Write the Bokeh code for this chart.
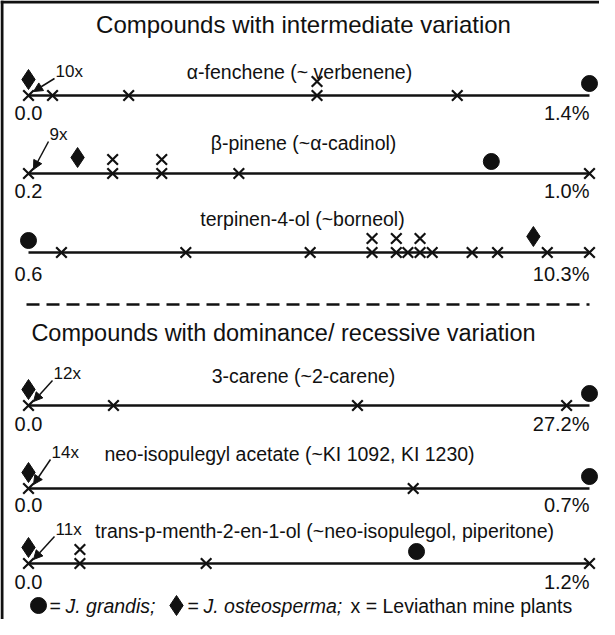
from bokeh.plotting import figure
from bokeh.models import Range1d, Arrow, NormalHead
from bokeh.embed import file_html
from bokeh.resources import INLINE
from bokeh.core.properties import value

# ---------------- data ----------------
section_titles = ["Compounds with intermediate variation",
                  "Compounds with dominance/ recessive variation"]
compounds = ["α-fenchene (~ verbenene)",
             "β-pinene (~α-cadinol)",
             "terpinen-4-ol (~borneol)",
             "3-carene (~2-carene)",
             "neo-isopulegyl acetate (~KI 1092, KI 1230)",
             "trans-p-menth-2-en-1-ol (~neo-isopulegol, piperitone)"]
range_min = [0.0, 0.2, 0.6, 0.0, 0.0, 0.0]
range_max = [1.4, 1.0, 10.3, 27.2, 0.7, 1.2]
min_labels = ["0.0", "0.2", "0.6", "0.0", "0.0", "0.0"]
max_labels = ["1.4%", "1.0%", "10.3%", "27.2%", "0.7%", "1.2%"]
grandis = [1.4, 0.86, 0.6, 27.2, 0.7, 0.83]
osteosperma = [0.0, 0.27, 9.33, 0.0, 0.0, 0.0]
leviathan_values = [
    [0.0, 0.06, 0.25, 0.72, 1.07],
    [0.2, 0.32, 0.39, 0.5, 1.0],
    [1.17, 3.32, 5.47, 6.54, 6.96, 7.16, 7.37, 7.58, 8.27, 8.71, 9.57, 10.3],
    [0.0, 4.12, 15.95, 26.09],
    [0.0, 0.48],
    [0.0, 0.11, 0.38, 1.2],
]
leviathan_counts = [
    [10, 1, 1, 2, 1],
    [9, 2, 2, 1, 1],
    [1, 1, 1, 2, 2, 1, 2, 1, 1, 1, 1, 1],
    [12, 1, 1, 1],
    [14, 1],
    [11, 2, 1, 1],
]
legend_parts = ["=", "J. grandis;", "=", "J. osteosperma;", "x = Leviathan mine plants"]

# ---------------- layout ----------------
INK = "#111111"
FONT = value("Liberation Sans")
W, H = 599, 619
XL, XR = 8, 8 + W
YT, YB = 8, 8 + H
X0, X1 = 36, 597            # screen span of each row scale

row_y = [103, 181, 260, 413, 496, 571]
label_y = [79, 150, 226, 383, 461, 538]
label_x = [307, 311, 310, 311, 297, 332]
nx_y = [79, 142, 0, 381, 460, 537]
nx_dx = [27, 21, 0, 25, 23, 27]
tick_dy = [17, 17, 21, 18, 16, 18]

p = figure(width=W, height=H, output_backend="svg", toolbar_location=None,
           x_range=Range1d(XL, XR), y_range=Range1d(YB, YT),
           x_axis_location=None, y_axis_location=None,
           min_border=0, outline_line_color=None,
           background_fill_color="white", border_fill_color="white")
p.grid.visible = False

# frame (top and left)
p.segment(x0=[XL, 9.5], y0=[9.5, YT], x1=[XR, 9.5], y1=[9.5, YB],
          line_color=INK, line_width=3)

# section titles
p.text(x=[311], y=[32], text=[section_titles[0]], text_font=FONT,
       text_font_size="24px", text_align="center", text_baseline="middle", text_color=INK)
p.text(x=[291], y=[340], text=[section_titles[1]], text_font=FONT,
       text_font_size="23.5px", text_align="center", text_baseline="middle", text_color=INK)

# dashed separator
p.line(x=[34, 597], y=[312, 312], line_color=INK, line_width=2.5, line_dash="13 7")

for i in range(6):
    lo, hi = range_min[i], range_max[i]
    k = (hi - lo) / (X1 - X0)
    name = f"r{i}"
    p.extra_x_ranges[name] = Range1d(lo - (X0 - XL) * k, hi + (XR - X1) * k)
    ry = row_y[i]

    p.line(x=[lo, hi], y=[ry, ry], x_range_name=name, line_color=INK, line_width=2.6)

    xs, ys = [], []
    for v, c in zip(leviathan_values[i], leviathan_counts[i]):
        xs.append(v)
        ys.append(ry)
        if c == 2:
            xs.append(v)
            ys.append(ry - 14)
    p.scatter(x=xs, y=ys, marker="x", size=15, line_width=2.2, line_color=INK,
              x_range_name=name)

    p.scatter(x=[grandis[i]], y=[ry - 12], marker="circle", size=16,
              fill_color=INK, line_color=INK, x_range_name=name)
    p.scatter(x=[osteosperma[i]], y=[ry - 16], marker="diamond", size=20,
              fill_color=INK, line_color=INK, x_range_name=name)

    for v, c in zip(leviathan_values[i], leviathan_counts[i]):
        if c >= 3:
            p.text(x=[v + nx_dx[i] * k], y=[nx_y[i]], text=[f"{c}x"], text_font=FONT,
                   text_font_size="17px", text_align="left", text_baseline="middle",
                   text_color=INK, x_range_name=name)
            p.add_layout(Arrow(end=NormalHead(size=9, fill_color=INK, line_color=INK),
                               x_start=v + (nx_dx[i] - 1) * k, y_start=nx_y[i] + 7,
                               x_end=v + 5 * k, y_end=ry - 4,
                               line_color=INK, line_width=1.5, x_range_name=name))

    p.text(x=[label_x[i]], y=[label_y[i]], text=[compounds[i]], text_font=FONT,
           text_font_size="19.5px", text_align="center", text_baseline="middle",
           text_color=INK)
    p.text(x=[lo], y=[ry + tick_dy[i]], text=[min_labels[i]], text_font=FONT,
           text_font_size="20px", text_align="center", text_baseline="middle",
           text_color=INK, x_range_name=name)
    p.text(x=[hi], y=[ry + tick_dy[i]], text=[max_labels[i]], text_font=FONT,
           text_font_size="20px", text_align="right", text_baseline="middle",
           text_color=INK, x_range_name=name)

# legend line
LY = 613
p.scatter(x=[46], y=[LY], marker="circle", size=16, fill_color=INK, line_color=INK)
p.scatter(x=[184], y=[LY], marker="diamond", size=20, fill_color=INK, line_color=INK)
leg_x = [57, 73, 195, 211, 358]
leg_style = ["normal", "italic", "normal", "italic", "normal"]
for tx, tt, ts in zip(leg_x, legend_parts, leg_style):
    p.text(x=[tx], y=[LY], text=[tt], text_font=FONT, text_font_size="19.5px",
           text_font_style=ts, text_align="left", text_baseline="middle", text_color=INK)

open("out.html", "w").write(file_html(p, INLINE))
